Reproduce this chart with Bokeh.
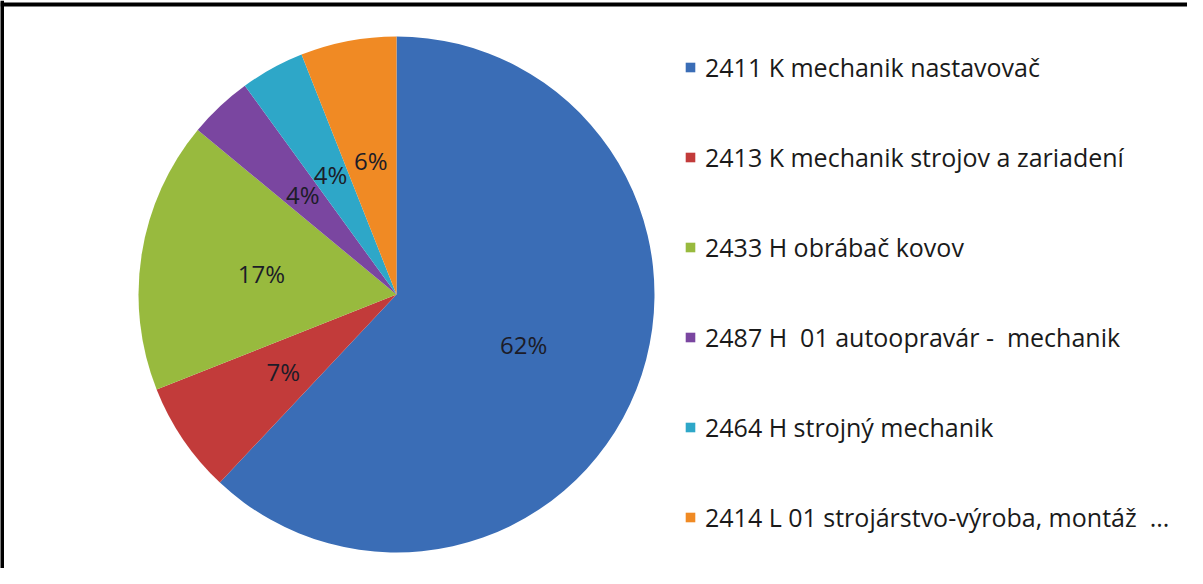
import math
from bokeh.plotting import figure
from bokeh.models import ColumnDataSource, Range1d, Legend, LegendItem, Span
from bokeh.embed import file_html
from bokeh.resources import INLINE

categories = [
    "2411 K mechanik nastavovač",
    "2413 K mechanik strojov a zariadení",
    "2433 H obrábač kovov",
    "2487 H  01 autoopravár -  mechanik",
    "2464 H strojný mechanik",
    "2414 L 01 strojárstvo-výroba, montáž  ...",
]
shares = [62, 7, 17, 4, 4, 6]
labels = ["62%", "7%", "17%", "4%", "4%", "6%"]
colors = ["#3A6DB6", "#C23B3A", "#98BA3E", "#7A46A0", "#2EA7C8", "#F08A24"]

W, H = 1187, 568
CX, CY, R = 396, H - 294, 258
LABEL_R = 0.53 * R

total = float(sum(shares))
starts, ends, lx, ly = [], [], [], []
cum = 0.0
for s in shares:
    a0 = math.pi / 2 - 2 * math.pi * cum / total
    cum += s
    a1 = math.pi / 2 - 2 * math.pi * cum / total
    starts.append(a0)
    ends.append(a1)
    mid = (a0 + a1) / 2
    lx.append(CX + LABEL_R * math.cos(mid))
    ly.append(CY + LABEL_R * math.sin(mid))

src = ColumnDataSource(dict(cat=categories, start=starts, end=ends,
                            color=colors, lx=lx, ly=ly, lab=labels))

p = figure(width=W, height=H, output_backend="svg", toolbar_location=None,
           x_range=Range1d(0, W), y_range=Range1d(0, H),
           min_border=0, outline_line_color=None)
p.axis.visible = False
p.grid.visible = False
p.background_fill_color = "white"
p.border_fill_color = "white"

r = p.wedge(x=CX, y=CY, radius=R, start_angle="start", end_angle="end",
            direction="clock", fill_color="color", line_color=None, source=src)

p.text(x="lx", y="ly", text="lab", source=src, text_align="center",
       text_baseline="middle", text_font_size="24px", text_color="#1c1c28",
       text_font={"value": "Open Sans"})

items = [LegendItem(label=c, renderers=[r], index=i) for i, c in enumerate(categories)]
legend = Legend(items=items, location=(684, 33), orientation="vertical",
                glyph_width=12, glyph_height=12, label_height=36,
                spacing=54, padding=0, margin=0, label_standoff=9,
                label_text_font="Open Sans", label_text_font_size="25px",
                label_text_color="#1a1a1a", border_line_color=None,
                background_fill_alpha=0)
p.add_layout(legend)

p.add_layout(Span(location=564, dimension="width", line_color="black", line_width=4))
p.add_layout(Span(location=1.5, dimension="height", line_color="black", line_width=4))

open("out.html", "w").write(file_html(p, INLINE))
